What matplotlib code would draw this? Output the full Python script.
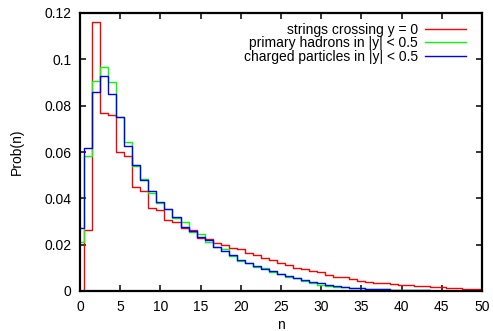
import matplotlib
matplotlib.use("Agg")
import matplotlib.pyplot as plt
from matplotlib.ticker import FuncFormatter, MultipleLocator

plt.rcParams['font.family'] = ['Liberation Sans', 'DejaVu Sans']

n = list(range(0, 51))

strings_y0 = [0.0, 0.0265, 0.116, 0.0767, 0.0760, 0.0600, 0.0583, 0.0450, 0.0432, 0.0360,
              0.0350, 0.0307, 0.0297, 0.0272, 0.0265, 0.0230, 0.0225, 0.0206, 0.0199, 0.0184,
              0.0181, 0.0163, 0.0155, 0.0142, 0.0134, 0.0120, 0.0114, 0.0098, 0.0094, 0.0086,
              0.0080, 0.0070, 0.0062, 0.0059, 0.0050, 0.0045, 0.0039, 0.0036, 0.0033, 0.0029,
              0.0026, 0.0025, 0.0022, 0.0021, 0.0017, 0.0016, 0.0012, 0.0011, 0.0009, 0.0008,
              0.0007]

primary_hadrons = [0.021, 0.0584, 0.0908, 0.0969, 0.0900, 0.0753, 0.0645, 0.0541, 0.0484, 0.0425,
                   0.0381, 0.0353, 0.0314, 0.0300, 0.0256, 0.0246, 0.0213, 0.0189, 0.0180, 0.0151,
                   0.0131, 0.0122, 0.0105, 0.0098, 0.0083, 0.0072, 0.0062, 0.0055, 0.0042, 0.0036,
                   0.0027, 0.0022, 0.0019, 0.0017, 0.0014, 0.0012, 0.0009, 0.0008, 0.0007, 0.0006,
                   0.0005, 0.0004, 0.0003, 0.0003, 0.0002, 0.0002, 0.0001, 0.0001, 0.0001, 0.0001,
                   0.0001]

charged_particles = [0.027, 0.0619, 0.0858, 0.0926, 0.0851, 0.0750, 0.0626, 0.0544, 0.0477, 0.0432,
                     0.0386, 0.0356, 0.0318, 0.0278, 0.0258, 0.0235, 0.0220, 0.0189, 0.0173, 0.0156,
                     0.0134, 0.0120, 0.0108, 0.0095, 0.0085, 0.0075, 0.0065, 0.0057, 0.0048, 0.0040,
                     0.0033, 0.0027, 0.0022, 0.0019, 0.0015, 0.0012, 0.0010, 0.0008, 0.0007, 0.0006,
                     0.0005, 0.0004, 0.0003, 0.0003, 0.0002, 0.0002, 0.0001, 0.0001, 0.0001, 0.0001,
                     0.0001]

labels = ["strings crossing y = 0",
          "primary hadrons in |y| < 0.5",
          "charged particles in |y| < 0.5"]
colors = ["#ff0000", "#00ff00", "#0000ff"]

fig = plt.figure(figsize=(4.93, 3.31), dpi=100)
ax = fig.add_axes([80/493, 40/331, 402/493, 278/331])

for vals, lab, c in zip([strings_y0, primary_hadrons, charged_particles], labels, colors):
    ax.step(n, vals, where='mid', color=c, lw=1.0, label=lab)

ax.set_xlim(0, 50)
ax.set_ylim(0, 0.12)
ax.xaxis.set_major_locator(MultipleLocator(5))
ax.yaxis.set_major_locator(MultipleLocator(0.02))
ax.yaxis.set_major_formatter(FuncFormatter(lambda v, p: "%g" % round(v, 4)))

for s in ax.spines.values():
    s.set_linewidth(1.6)
ax.tick_params(direction='in', length=4.5, width=1.1, top=True, right=True,
               labelsize=10)
ax.tick_params(axis='x', pad=6.5)
ax.tick_params(axis='y', pad=6)

ax.set_xlabel("n", fontsize=10, labelpad=3)
ax.set_ylabel("Prob(n)", fontsize=10, labelpad=15)

leg = ax.legend(loc='upper right', frameon=False, fontsize=10, markerfirst=False,
                handlelength=2.95, handletextpad=0.5, labelspacing=-0.04,
                borderaxespad=0.0, bbox_to_anchor=(0.974, 0.985))
for t in leg.get_texts():
    t.set_ha('right')
leg._legend_box.align = "right"

fig.savefig("out.png", dpi=100)
